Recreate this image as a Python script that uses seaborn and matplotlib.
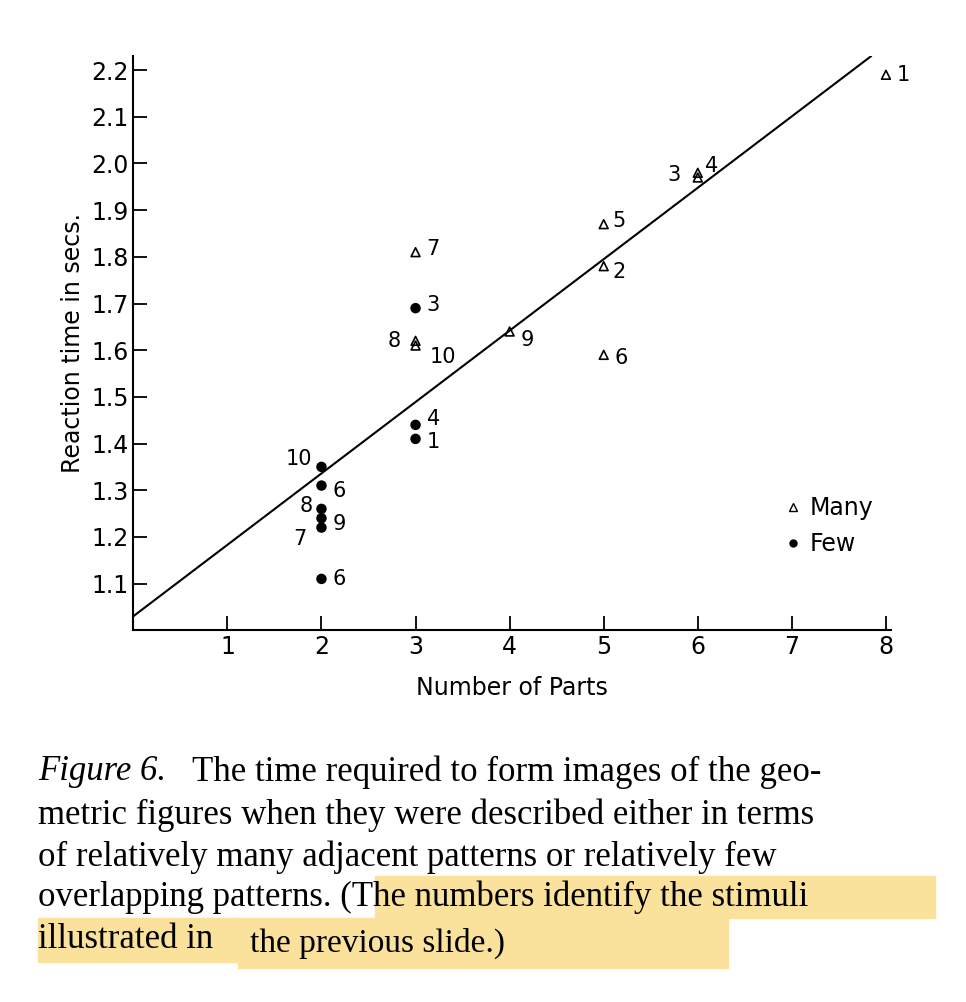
import numpy as np
import pandas as pd
import matplotlib.pyplot as plt
import matplotlib.patches as mpatches
import seaborn as sns

## 데이터
many_x = [8, 6, 6, 5, 5, 3, 3, 3, 4, 5]
many_y = [2.19, 1.97, 1.98, 1.87, 1.78, 1.81, 1.62, 1.61, 1.64, 1.59]
many_lab = ['1', '3', '4', '5', '2', '7', '8', '10', '9', '6']
few_x = [3, 3, 3, 2, 2, 2, 2, 2, 2]
few_y = [1.69, 1.44, 1.41, 1.35, 1.31, 1.26, 1.24, 1.22, 1.11]
few_lab = ['3', '4', '1', '10', '6', '8', '9', '7', '6']
line_b, line_m = 1.03, 0.153
x_ticks = [1, 2, 3, 4, 5, 6, 7, 8]
y_ticks = [1.1, 1.2, 1.3, 1.4, 1.5, 1.6, 1.7, 1.8, 1.9, 2.0, 2.1, 2.2]

sns.set_style('white')
plt.rcParams['font.family'] = ['DejaVu Sans']
plt.rcParams['text.color'] = 'k'
plt.rcParams['axes.labelcolor'] = 'k'
plt.rcParams['xtick.color'] = 'k'
plt.rcParams['ytick.color'] = 'k'

df = pd.DataFrame({'x': many_x + few_x, 'y': many_y + few_y,
                   'g': ['Many'] * len(many_x) + ['Few'] * len(few_x)})

fig = plt.figure(figsize=(9.66, 10.02), dpi=100)
ax = fig.add_axes([0.138, 0.371, 0.784, 0.573])
sns.scatterplot(data=df, x='x', y='y', style='g', markers={'Many': '^', 'Few': 'o'},
                color='k', s=40, ax=ax, legend=False)
# 삼각형은 속이 빈 모양
ax.collections[0].set_facecolors(['none' if g == 'Many' else 'k' for g in df.g])
ax.collections[0].set_edgecolors('k')
ax.collections[0].set_linewidths(1.2)
ax.axline((0, line_b), slope=line_m, color='k', lw=1.5)

# 점 번호
many_off = {'1': (8, 0), '3': (-22, 2), '4': (5, 5), '5': (6, 2), '2': (6, -4), '7': (8, 2),
            '8': (-20, 0), '10': (10, -8), '9': (8, -6), '6': (8, -2)}
for x, y, t in zip(many_x, many_y, many_lab):
    ax.annotate(t, (x, y), xytext=many_off[t], textcoords='offset points',
                fontsize=15, va='center')
few_off = {'3': (8, 2), '4': (8, 4), '1': (8, -2), '10': (-26, 6), '6': (8, -4),
           '8': (-16, 2), '9': (8, -4), '7': (-20, -8)}
for x, y, t in zip(few_x, few_y, few_lab):
    off = few_off[t] if not (t == '6' and y < 1.2) else (8, 0)
    ax.annotate(t, (x, y), xytext=off, textcoords='offset points',
                fontsize=15, va='center')

# 범례
h1 = plt.Line2D([], [], marker='^', ls='', mfc='none', mec='k', color='k', ms=6)
h2 = plt.Line2D([], [], marker='o', ls='', color='k', ms=5)
ax.legend([h1, h2], ['Many', 'Few'], frameon=False, fontsize=17,
          bbox_to_anchor=(0.83, 0.27), loc='upper left', handletextpad=0.3, handlelength=0.8)

ax.set_xlim(0, 8.05)
ax.set_ylim(1.0, 2.23)
ax.set_xticks(x_ticks)
ax.set_yticks(y_ticks)
ax.set_yticklabels([f'{v:.1f}' for v in y_ticks])
ax.tick_params(direction='in', length=10, width=1.3, labelsize=17, left=True, bottom=True)
ax.set_xlabel('Number of Parts', fontsize=17, labelpad=12)
ax.set_ylabel('Reaction time in secs.', fontsize=17)
sns.despine(ax=ax)
for s in ['left', 'bottom']:
    ax.spines[s].set_linewidth(1.5)
    ax.spines[s].set_color('k')

# 캡션 하이라이트
W, H = 966, 1002
def box(x0, y0, x1, y1):
    fig.patches.append(mpatches.Rectangle((x0 / W, 1 - y1 / H), (x1 - x0) / W, (y1 - y0) / H,
                       transform=fig.transFigure, color='#fae29c', zorder=0))
box(375, 876, 935, 918)
box(38, 918, 240, 962)
box(238, 918, 728, 968)

serif = ['Liberation Serif', 'DejaVu Serif']
lines = ["The time required to form images of the geo-",
         "metric figures when they were described either in terms",
         "of relatively many adjacent patterns or relatively few",
         "overlapping patterns. (The numbers identify the stimuli",
         "illustrated in"]
ys = [772, 815, 857, 897, 940]
fig.text(38 / W, 1 - ys[0] / H, 'Figure 6.', fontsize=25, style='italic', family=serif, va='center')
fig.text(192 / W, 1 - ys[0] / H, lines[0], fontsize=25, family=serif, va='center')
for t, y in zip(lines[1:], ys[1:]):
    fig.text(38 / W, 1 - y / H, t, fontsize=25, family=serif, va='center')
fig.text(250 / W, 1 - 943 / H, 'the previous slide.)', fontsize=24, family=serif, va='center')

fig.savefig('out.png', dpi=100)
